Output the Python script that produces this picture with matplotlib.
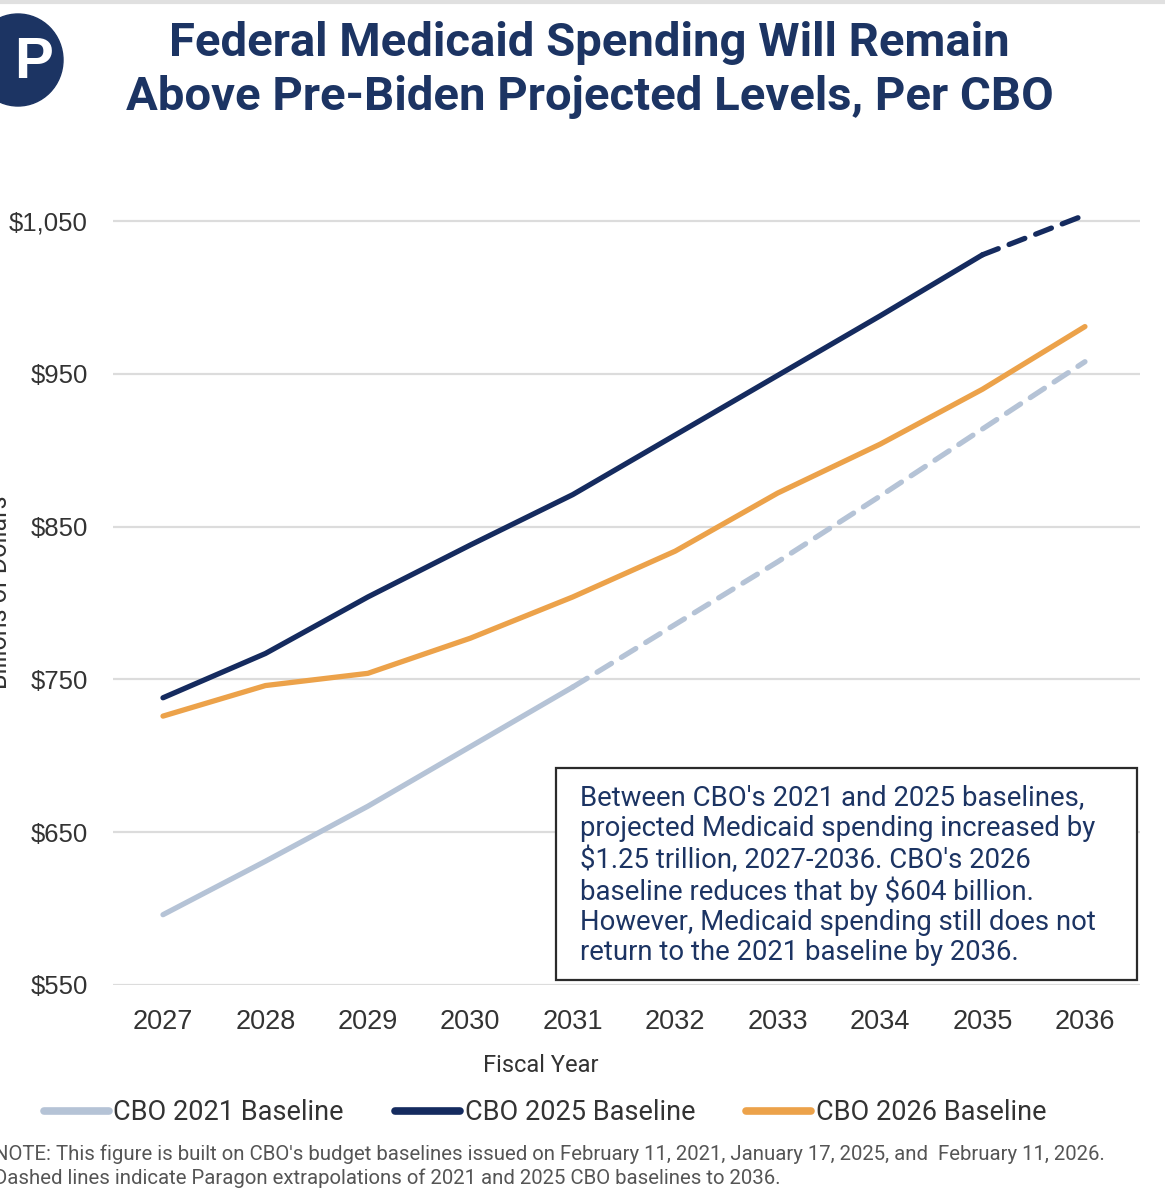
import matplotlib
matplotlib.use("Agg")
from matplotlib import pyplot as plt
from matplotlib.patches import Ellipse, Rectangle
from matplotlib.lines import Line2D

years = [2027, 2028, 2029, 2030, 2031, 2032, 2033, 2034, 2035, 2036]
cbo_2021 = [596, 631, 667, 706, 745, 786, 827, 870, 914, 958]
cbo_2025 = [738, 767, 804, 838, 871, 910, 949, 988, 1028, 1054]
cbo_2026 = [726, 746, 754, 777, 804, 834, 872, 904, 940, 981]
yticks = [550, 650, 750, 850, 950, 1050]
ytick_labels = ["$550", "$650", "$750", "$850", "$950", "$1,050"]

# index where the dashed extrapolation starts
ext_2021 = 4
ext_2025 = 8

NAVY = "#152b5f"
ORANGE = "#eca24a"
LIGHT = "#b5c3d6"
TITLE = "#1c3463"

rob = ["Roboto", "DejaVu Sans"]
plain = ["Liberation Sans", "DejaVu Sans"]


def main():
    fig = plt.figure(figsize=(11.65, 12), dpi=100)
    ax = fig.add_axes([0.097, 0.1792, 0.8815, 0.6683])

    for y in yticks:
        ax.axhline(y, color="#dcdcdc", lw=1.6, zorder=0)

    lw = 3.8
    ax.plot(years[:ext_2021 + 1], cbo_2021[:ext_2021 + 1], color=LIGHT, lw=lw,
            solid_capstyle="round")
    ax.plot(years[ext_2021:], cbo_2021[ext_2021:], color=LIGHT, lw=lw,
            dashes=(3.2, 2.2), dash_capstyle="round")
    ax.plot(years[:ext_2025 + 1], cbo_2025[:ext_2025 + 1], color=NAVY, lw=lw,
            solid_capstyle="round")
    ax.plot(years[ext_2025:], cbo_2025[ext_2025:], color=NAVY, lw=lw,
            dashes=(3.2, 2.2), dash_capstyle="round")
    ax.plot(years, cbo_2026, color=ORANGE, lw=lw, solid_capstyle="round")

    ax.set_xlim(2026.512, 2036.537)
    ax.set_ylim(550, 1075)
    ax.set_xticks(years)
    ax.set_xticklabels([str(y) for y in years], family=plain, fontsize=19.5,
                       color="#333333")
    ax.set_yticks(yticks)
    ax.set_yticklabels(ytick_labels, family=plain, fontsize=18.5,
                       color="#333333")
    ax.tick_params(length=0)
    ax.tick_params(axis="x", pad=17)
    ax.tick_params(axis="y", pad=18)
    for s in ax.spines.values():
        s.set_visible(False)

    fig.text(0.4645, 1 - 1065 / 1200, "Fiscal Year", ha="center", va="center",
             family=rob, fontsize=17, color="#333333")
    fig.text(0.0, 1 - 592 / 1200, "Billions of Dollars", rotation=90,
             ha="center", va="center", family=rob, fontsize=18,
             color="#333333")

    # annotation box
    x0 = 556 / 1165
    y0 = 1 - 980 / 1200
    fig.add_artist(Rectangle((x0, y0), (1137 - 556) / 1165, (980 - 768) / 1200,
                             transform=fig.transFigure, facecolor="white",
                             edgecolor="#2b2b2b", lw=1.6, zorder=5))
    box_lines = [
        "Between CBO's 2021 and 2025 baselines,",
        "projected Medicaid spending increased by",
        "$1.25 trillion, 2027-2036. CBO's 2026",
        "baseline reduces that by $604 billion.",
        "However, Medicaid spending still does not",
        "return to the 2021 baseline by 2036.",
    ]
    for i, line in enumerate(box_lines):
        fig.text(580 / 1165, 1 - (798 + 31 * i) / 1200, line, ha="left",
                 va="center", family=rob, fontsize=19.8,
                 color=TITLE, zorder=6)

    # title
    fig.text(0.506, 1 - 43 / 1200, "Federal Medicaid Spending Will Remain",
             ha="center", va="center", family=rob, fontsize=34,
             fontweight="bold", color=TITLE)
    fig.text(0.506, 1 - 97 / 1200, "Above Pre-Biden Projected Levels, Per CBO",
             ha="center", va="center", family=rob, fontsize=34,
             fontweight="bold", color=TITLE)

    # logo, cut off at the left edge
    fig.add_artist(Ellipse((18 / 1165, 1 - 60 / 1200), 90 / 1165, 92 / 1200,
                           transform=fig.transFigure, color="#1c3463"))
    fig.text(34 / 1165, 1 - 63 / 1200, "P", ha="center", va="center",
             family=plain, fontsize=42, fontweight="bold", color="white")

    # top border
    fig.add_artist(Line2D([0, 1], [0.998, 0.998], transform=fig.transFigure,
                          color="#e0e0e0", lw=3))

    # legend
    handles = [
        Line2D([], [], color=LIGHT, lw=5.5, solid_capstyle="round"),
        Line2D([], [], color=NAVY, lw=5.5, solid_capstyle="round"),
        Line2D([], [], color=ORANGE, lw=5.5, solid_capstyle="round"),
    ]
    labels = ["CBO 2021 Baseline", "CBO 2025 Baseline", "CBO 2026 Baseline"]
    fig.legend(handles, labels, loc="center", ncol=3,
               bbox_to_anchor=(0.468, 1 - 1113 / 1200), frameon=False,
               prop={"family": rob, "size": 19.5}, handlelength=2.4,
               handletextpad=0.15, columnspacing=1.9, labelcolor="#333333")

    fig.text(-0.005, 1 - 1154 / 1200,
             "NOTE: This figure is built on CBO's budget baselines issued on "
             "February 11, 2021, January 17, 2025, and  February 11, 2026.",
             ha="left", va="center", family=rob, fontsize=14.7,
             color="#555555")
    fig.text(-0.005, 1 - 1178 / 1200,
             "Dashed lines indicate Paragon extrapolations of 2021 and 2025 "
             "CBO baselines to 2036.",
             ha="left", va="center", family=rob, fontsize=14.7,
             color="#555555")

    fig.savefig("out.png", dpi=100)


if __name__ == "__main__":
    main()
